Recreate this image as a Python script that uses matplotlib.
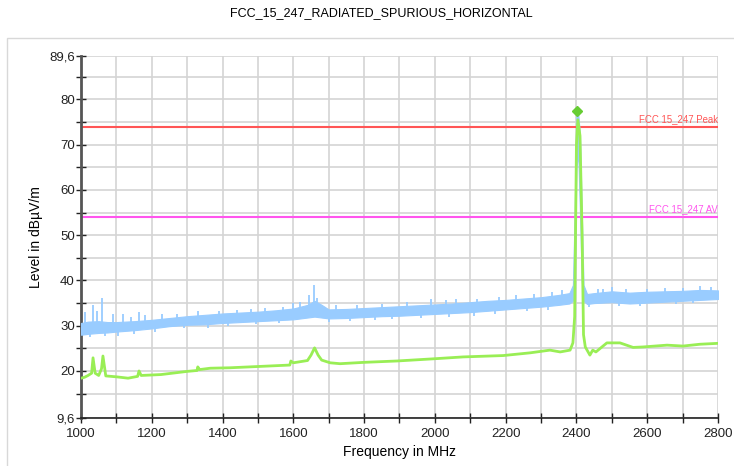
import numpy as np
import matplotlib.pyplot as plt
from matplotlib.patches import Rectangle
from matplotlib.ticker import MultipleLocator, FixedLocator, FuncFormatter

plt.rcParams['font.family'] = ['Liberation Sans', 'DejaVu Sans']

# peak trace, drawn as a noise band (lower / upper envelope)
freq_pk = [1000, 1020, 1050, 1075, 1100, 1150, 1200, 1250, 1300, 1350, 1400, 1450, 1500,
           1550, 1600, 1640, 1660, 1680, 1700, 1750, 1800, 1850, 1900, 1950, 2000, 2050,
           2100, 2150, 2200, 2250, 2300, 2350, 2380, 2390, 2395, 2400, 2405, 2410, 2415,
           2420, 2430, 2450, 2500, 2550, 2600, 2650, 2700, 2750, 2800]
pk_low = [28.0, 28.2, 28.4, 28.5, 28.7, 29.0, 29.4, 29.9, 30.2, 30.3, 30.6, 30.8, 31.0,
          31.2, 31.4, 31.8, 32.0, 31.8, 31.6, 31.7, 31.9, 32.1, 32.2, 32.4, 32.6, 32.8,
          33.0, 33.3, 33.6, 33.9, 34.2, 34.6, 34.9, 35.5, 40.0, 65.0, 68.0, 55.0, 40.0,
          35.5, 34.8, 35.0, 35.2, 34.9, 35.1, 35.3, 35.5, 35.7, 35.9]
pk_high = [30.6, 30.9, 31.0, 30.8, 30.8, 31.0, 31.3, 31.7, 32.1, 32.4, 32.7, 32.9, 33.1,
           33.4, 33.8, 34.6, 35.5, 34.6, 33.6, 33.7, 33.9, 34.1, 34.3, 34.5, 34.7, 34.9,
           35.2, 35.5, 35.7, 36.0, 36.3, 36.8, 37.2, 39.0, 55.0, 77.4, 77.0, 72.0, 55.0,
           39.0, 37.0, 37.2, 37.6, 37.3, 37.5, 37.6, 37.7, 37.9, 37.8]
# single spikes sticking out of the peak band
spike_f = [1012, 1034, 1045, 1060, 1090, 1120, 1140, 1164, 1180, 1230, 1270, 1330, 1390,
           1440, 1480, 1520, 1570, 1600, 1620, 1645, 1658, 1668, 1720, 1780, 1850, 1920,
           1990, 2030, 2060, 2120, 2180, 2230, 2280, 2330, 2360, 2460, 2475, 2500, 2540,
           2600, 2650, 2700, 2749, 2780]
spike_top = [33.0, 34.5, 33.3, 36.1, 32.5, 32.5, 31.9, 33.0, 32.3, 32.5, 32.6, 33.3, 33.2,
             33.5, 33.6, 33.8, 34.2, 35.0, 35.2, 36.8, 39.0, 36.2, 34.5, 34.6, 34.9, 35.2,
             35.8, 35.6, 36.0, 36.0, 36.4, 36.8, 37.0, 37.4, 37.8, 38.0, 38.2, 38.6, 38.0,
             38.2, 38.4, 38.3, 38.8, 38.5]
# dips below the peak band
dip_f = [1025, 1068, 1105, 1150, 1210, 1290, 1360, 1415, 1495, 1560, 1700, 1760, 1830,
         1880, 1960, 2040, 2110, 2170, 2260, 2320, 2435, 2520, 2580, 2680, 2730]
dip_bot = [27.4, 27.7, 27.8, 28.2, 28.6, 29.4, 29.5, 29.9, 30.3, 30.6, 30.9, 31.0, 31.3,
           31.4, 31.6, 31.9, 32.2, 32.6, 33.2, 33.5, 34.2, 34.4, 34.3, 34.8, 35.0]

# average trace
freq_av = [1000, 1010, 1020, 1030, 1034, 1040, 1050, 1058, 1062, 1070, 1100, 1133, 1160,
           1164, 1170, 1226, 1300, 1328, 1330, 1335, 1365, 1421, 1506, 1590, 1593, 1600,
           1640, 1650, 1660, 1670, 1680, 1704, 1732, 1800, 1893, 2000, 2080, 2193, 2269,
           2325, 2354, 2382, 2390, 2395, 2400, 2404, 2410, 2416, 2420, 2425, 2438, 2446,
           2455, 2486, 2523, 2560, 2588, 2656, 2701, 2749, 2800]
av = [18.4, 18.6, 19.0, 19.5, 22.9, 19.5, 19.0, 20.5, 23.3, 18.9, 18.7, 18.4, 18.8,
      20.0, 19.0, 19.2, 19.9, 20.1, 20.9, 20.3, 20.6, 20.7, 21.0, 21.3, 22.2, 21.8,
      22.3, 23.5, 25.1, 23.5, 22.4, 21.8, 21.6, 21.9, 22.2, 22.7, 23.1, 23.4, 24.0,
      24.6, 24.2, 24.6, 26.2, 32.0, 70.0, 75.5, 72.0, 50.0, 28.0, 25.3, 23.5, 24.6,
      24.2, 26.2, 26.2, 25.2, 25.3, 25.7, 25.5, 25.9, 26.1]

limit_peak = 74.0
limit_av = 54.0
marker_f, marker_v = 2402, 77.4

blue = '#99ccff'
green = '#99ee55'

fig = plt.figure(figsize=(7.34, 4.66), dpi=100)
fig.patches.append(Rectangle((7 / 734, -0.01), 1.0, 0.918 + 0.01, transform=fig.transFigure,
                             fill=False, ec='#d8d8d8', lw=1))
ax = fig.add_axes([81 / 734, 1 - 418 / 466, 637 / 734, 362 / 466])

ax.fill_between(freq_pk, pk_low, pk_high, color=blue, lw=0.8, ec=blue, zorder=3)
mid_pk = (np.array(pk_low) + np.array(pk_high)) / 2
ax.vlines(spike_f, np.interp(spike_f, freq_pk, mid_pk), spike_top, color=blue, lw=1.3, zorder=3)
ax.vlines(dip_f, dip_bot, np.interp(dip_f, freq_pk, mid_pk), color=blue, lw=1.3, zorder=3)
ax.plot(freq_av, av, color=green, lw=2, zorder=4)

ax.axhline(limit_peak, color='#ff5555', lw=1.5, zorder=2)
ax.axhline(limit_av, color='#ff55ee', lw=1.5, zorder=2)
ax.text(2800, limit_peak + 0.6, 'FCC 15_247 Peak', color='#ff5555', fontsize=6.9,
        ha='right', va='bottom')
ax.text(2800, limit_av + 0.6, 'FCC 15_247 AV', color='#ff55ee', fontsize=6.9,
        ha='right', va='bottom')
ax.plot([marker_f], [marker_v], marker='D', color='#66cc33', ms=5, zorder=5)

ax.set_xlim(1000, 2800)
ax.set_ylim(9.6, 89.6)
ax.xaxis.set_major_locator(MultipleLocator(200))
ax.xaxis.set_minor_locator(MultipleLocator(100))
ax.yaxis.set_major_locator(FixedLocator([9.6, 20, 30, 40, 50, 60, 70, 80, 89.6]))
ax.yaxis.set_minor_locator(FixedLocator([15, 25, 35, 45, 55, 65, 75, 85]))
ax.yaxis.set_major_formatter(FuncFormatter(lambda v, p: f'{v:g}'.replace('.', ',')))
ax.grid(True, which='both', color='#d4d4d4', lw=1.2, zorder=0)
ax.set_axisbelow(True)
ax.tick_params(which='both', direction='inout', length=7, width=1, colors='#222222',
               labelsize=9.5)
ax.tick_params(axis='y', which='major', pad=1)

for s in ['top', 'right']:
    ax.spines[s].set_visible(False)
ax.spines['left'].set_color('#555555')
ax.spines['left'].set_linewidth(2)
ax.spines['bottom'].set_color('#222222')
ax.spines['bottom'].set_linewidth(1.2)

ax.set_xlabel('Frequency in MHz', fontsize=10)
ax.set_ylabel('Level in dB\u00b5V/m', fontsize=10)
fig.suptitle('FCC_15_247_RADIATED_SPURIOUS_HORIZONTAL', fontsize=9, x=0.52, y=0.985)

fig.savefig('out.png', dpi=100)
